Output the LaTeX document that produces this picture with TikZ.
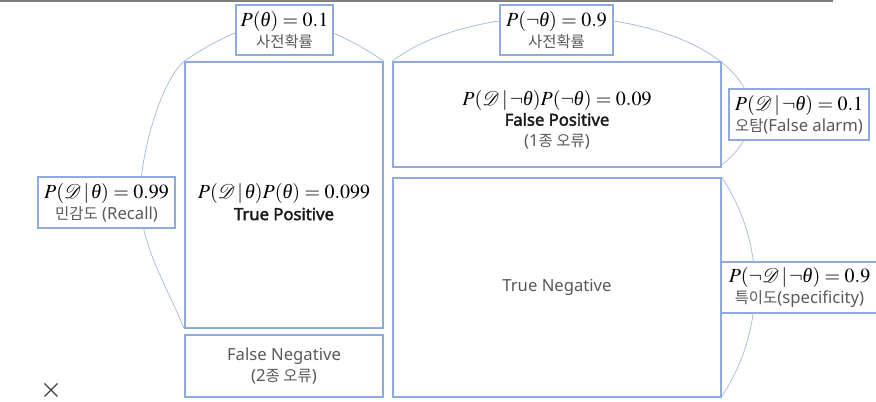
\documentclass[tikz,border=0pt]{standalone}
\usepackage{mathptmx}
\usepackage[no-math]{fontspec}
\newfontfamily\latinsans{Noto Sans}
\newfontfamily\latinsansbf{Noto Sans}[FakeBold=2.2]
\newfontfamily\krfont{Noto Sans CJK KR}
\newfontfamily\tms{Liberation Serif}
\usetikzlibrary{calc}
\pgfdeclarelayer{background}
\pgfsetlayers{background,main}
\definecolor{boxblue}{HTML}{8FAADC}
\definecolor{arcblue}{HTML}{A4B9E3}
\definecolor{txtgray}{HTML}{595959}
\definecolor{txtdark}{HTML}{1A1A1A}
\definecolor{rulegray}{HTML}{7F7F7F}
\newcommand\K[1]{{\krfont\fontsize{11.6}{15.5}\selectfont #1}}
\newcommand\M[1]{{\fontsize{15}{15.5}\selectfont\color{black}$#1$}}
\newcommand\cD{\mathcal{D}}
\newcommand\thet{\mbox{\tms\itshape θ}}
\newcommand\B[1]{{\latinsansbf\color{txtdark}#1}}
\tikzset{
  boxbase/.style={draw=boxblue, line width=1.1pt, fill=white, inner sep=0pt},
  lbl/.style={boxbase, align=center, text=txtgray,
    font=\latinsans\fontsize{12.5}{15.5}\selectfont},
  cell/.style={boxbase},
  txt/.style={align=center, inner sep=0pt, text=txtgray,
    font=\latinsans\fontsize{12.5}{16}\selectfont},
  arcl/.style={draw=arcblue, line width=0.55pt},
}
\begin{document}
\begin{tikzpicture}[x=0.75pt, y=-0.75pt]
\useasboundingbox (0,0) rectangle (876,402);
\clip (0,0) rectangle (876,402);
% cells
\node[cell, minimum width=148.5pt, minimum height=199.5pt] (TP) at (284,195) {};
\node[cell, minimum width=148.5pt, minimum height=46.5pt] (FN) at (284,366) {};
\node[cell, minimum width=246pt, minimum height=78.75pt] (FP) at (557,114.5) {};
\node[cell, minimum width=246pt, minimum height=164.25pt] (TN) at (557,287.5) {};
% cell texts
\node[txt] (TPt) at ($(TP.center)+(0,7)$) {\M{P(\cD\,|\,\thet)P(\thet) = 0.099}\\\B{True Positive}};
\node[txt, font=\latinsans\fontsize{12.5}{15.5}\selectfont] (FNt) at (FN.center) {False Negative\\(2\K{종 오류})};
\node[txt, font=\latinsans\fontsize{12.5}{15.5}\selectfont] (FPt) at ($(FP.center)+(0,5)$) {\M{P(\cD\,|\,\neg\thet)P(\neg\thet) = 0.09}\\\B{False Positive}\\(1\K{종 오류})};
\node[txt] (TNt) at (TN.center) {True Negative};
% label boxes
\node[lbl, minimum width=72.75pt, minimum height=37.5pt] (pth) at (284.5,30) {\M{P(\thet) = 0.1}\\\K{사전확률}};
\node[lbl, minimum width=84.75pt, minimum height=37.5pt] (pnth) at (556.5,30) {\M{P(\neg\thet) = 0.9}\\\K{사전확률}};
\node[lbl, minimum width=102.75pt, minimum height=38.25pt] (rec) at (106.5,202.5) {\M{P(\cD\,|\,\thet) = 0.99}\\\K{민감도} (Recall)};
\node[lbl, minimum width=105pt, minimum height=38.25pt] (fal) at (799,114.5) {\M{P(\cD\,|\,\neg\thet) = 0.1}\\\K{오탐}(False alarm)};
\node[lbl, minimum width=117.75pt, minimum height=38.25pt] (spe) at (799.5,287.5) {\M{P(\neg\cD\,|\,\neg\thet) = 0.9}\\\K{특이도}(specificity)};
% arcs behind
\begin{pgfonlayer}{background}
\draw[arcl] (TP.south west) .. controls (165,283) and (141,245) .. (140,200)
  .. controls (140,150) and (163,78) .. (TP.north west)
  .. controls (212,42) and (250,22) .. (284,22)
  .. controls (318,22) and (356,42) .. (TP.north east);
\draw[arcl] (FP.north west) arc[start angle=212.77, end angle=392.77, x radius=195, y radius=97];
\draw[arcl] (TN.north east) arc[start angle=-33.73, end angle=33.73, radius=197.19];
\end{pgfonlayer}
% top rule and close mark
\draw[rulegray, line width=1.6pt] (0,1) -- (833,1);
\draw[black!75, line width=0.9pt] (44.5,383.5) -- (57.5,396.5) (57.5,383.5) -- (44.5,396.5);
\end{tikzpicture}
\end{document}
